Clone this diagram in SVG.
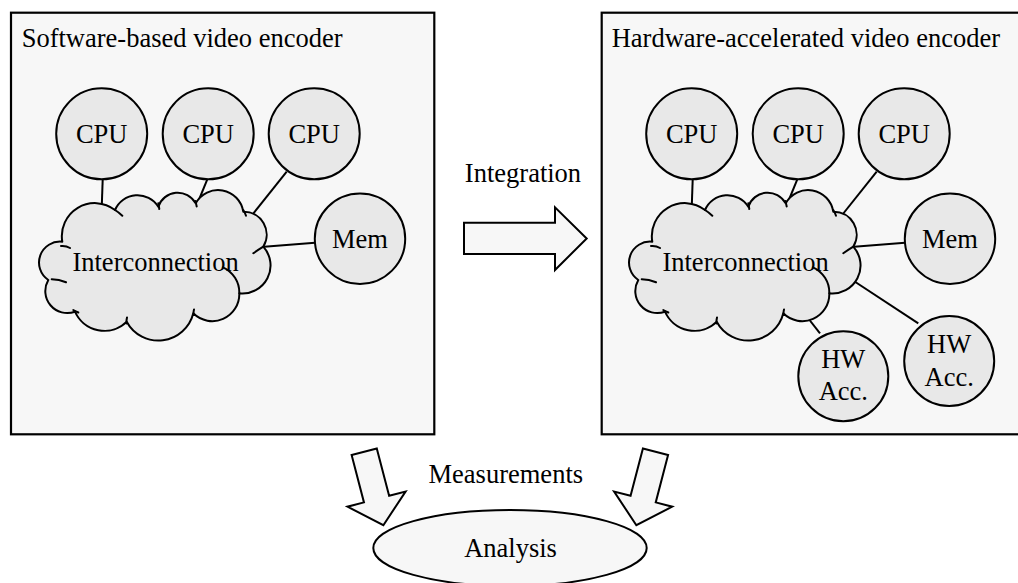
<svg xmlns="http://www.w3.org/2000/svg" xmlns:xlink="http://www.w3.org/1999/xlink" width="1018" height="583" viewBox="0 0 1018 583">
<style>
.box{fill:#f7f7f7;stroke:#000;stroke-width:2.2}
.nd{fill:#e8e8e8;stroke:#000;stroke-width:2}
.cl{fill:#e8e8e8;stroke:#000;stroke-width:2;stroke-linejoin:round}
.hk{fill:none;stroke:#000;stroke-width:2;stroke-linecap:round}
.ar{fill:#f7f7f7;stroke:#000;stroke-width:2;stroke-linejoin:miter}
.ln{stroke:#000;stroke-width:2;fill:none}
text{font-family:"Liberation Serif","Times New Roman",serif;font-size:26.5px;fill:#000}
.c{text-anchor:middle}
</style>
<defs>
<path id="cloudBody" class="cl" d="M 62.3 241.7 A 33 33 0 0 1 115 210 A 24.5 24.5 0 0 1 158.3 206.7 A 20.5 20.5 0 0 1 195.7 203.3 A 25.5 25.5 0 0 1 243.3 211.7 A 23 23 0 0 1 263.3 246.7 A 28 28 0 0 1 239.3 293.3 A 27 27 0 0 1 193.3 313.3 A 36 36 0 0 1 126.7 321.7 A 32 32 0 0 1 75 311.7 A 22 22 0 0 1 48.3 280 A 21 21 0 0 1 62.3 241.7 Z"/>
<path id="cloudHooks" class="hk" d="M 61 246 Q 66 245.5 70 248 M 51.7 279.3 Q 59 279.5 66 282.3 M 73.3 310 Q 76 311.5 78.3 312.5 M 126.5 323.5 Q 126.3 320.5 127 317.5 M 193.5 315 Q 193.3 312 194 309.5 M 239.3 293.3 A 27.7 27.7 0 0 0 222.9 267.3 M 263.3 246.7 Q 258 250 253.3 253.3 M 243.3 210 Q 245 212.5 246 215.7 M 195.7 201 Q 196 203.5 196.7 206.5 M 158.3 203.3 Q 158.8 206 159.3 209 M 115 210 Q 119 212.5 122.3 215.7"/>
<polygon id="downArrow" class="ar" points="-13,0 13,0 13,49 30,49 0,76 -30,49 -13,49"/>
</defs>

<g id="sw-box">
<rect class="box" x="11" y="12.7" width="423.3" height="421.6"/>
<text x="21.7" y="47.3">Software-based video encoder</text>
</g>
<g id="hw-box">
<rect class="box" x="601.7" y="12.7" width="423.3" height="421.6"/>
<text x="611.7" y="47.3">Hardware-accelerated video encoder</text>
</g>

<g id="connectors">
<line class="ln" x1="102.7" y1="179.3" x2="101.7" y2="208"/>
<line class="ln" x1="207.3" y1="179.3" x2="196.8" y2="205"/>
<line class="ln" x1="286.7" y1="171.7" x2="250.5" y2="217"/>
<line class="ln" x1="315" y1="242.7" x2="261" y2="247"/>
<line class="ln" x1="692.7" y1="179.3" x2="691.7" y2="208"/>
<line class="ln" x1="797.3" y1="179.3" x2="786.8" y2="205"/>
<line class="ln" x1="876.7" y1="171.7" x2="840.5" y2="217"/>
<line class="ln" x1="905" y1="242.7" x2="851" y2="247"/>
<line class="ln" x1="820" y1="333.3" x2="806" y2="315.5"/>
<line class="ln" x1="918.3" y1="323.3" x2="850" y2="278.5"/>
</g>

<g id="sw-interconnect">
<use xlink:href="#cloudBody"/>
<text class="c" x="155.6" y="270.7">Interconnection</text>
<use xlink:href="#cloudHooks"/>
</g>
<g id="sw-cpu1"><circle class="nd" cx="101.7" cy="133.8" r="45.5"/><text class="c" x="101.7" y="142.8">CPU</text></g>
<g id="sw-cpu2"><circle class="nd" cx="208.2" cy="133.8" r="45.5"/><text class="c" x="208.2" y="142.8">CPU</text></g>
<g id="sw-cpu3"><circle class="nd" cx="314.2" cy="133.8" r="45.5"/><text class="c" x="314.2" y="142.8">CPU</text></g>
<g id="sw-mem"><circle class="nd" cx="360" cy="238.7" r="45.2"/><text class="c" x="360" y="248.3">Mem</text></g>

<g id="hw-interconnect" transform="translate(590,0)">
<use xlink:href="#cloudBody"/>
<text class="c" x="155.6" y="270.7">Interconnection</text>
<use xlink:href="#cloudHooks"/>
</g>
<g id="hw-cpu1"><circle class="nd" cx="691.7" cy="133.8" r="45.5"/><text class="c" x="691.7" y="142.8">CPU</text></g>
<g id="hw-cpu2"><circle class="nd" cx="798.2" cy="133.8" r="45.5"/><text class="c" x="798.2" y="142.8">CPU</text></g>
<g id="hw-cpu3"><circle class="nd" cx="904.2" cy="133.8" r="45.5"/><text class="c" x="904.2" y="142.8">CPU</text></g>
<g id="hw-mem"><circle class="nd" cx="950" cy="238.7" r="45.2"/><text class="c" x="950" y="248.3">Mem</text></g>
<g id="hw-acc1"><circle class="nd" cx="843.3" cy="376.2" r="45"/><text class="c" x="843.3" y="368.3">HW</text><text class="c" x="843.3" y="400">Acc.</text></g>
<g id="hw-acc2"><circle class="nd" cx="949.2" cy="361" r="45"/><text class="c" x="949.2" y="353.3">HW</text><text class="c" x="949.2" y="385.7">Acc.</text></g>

<g id="integration">
<polygon class="ar" points="464,222.7 555,222.7 555,207.3 586.7,238.5 555,270 555,254 464,254"/>
<text class="c" x="523" y="181.7">Integration</text>
</g>

<g id="measurements">
<use xlink:href="#downArrow" transform="translate(364.2,451.7) rotate(-14.6)"/>
<use xlink:href="#downArrow" transform="translate(655.5,451.7) rotate(14.6)"/>
<text class="c" x="505.8" y="483.3">Measurements</text>
</g>

<g id="analysis">
<ellipse cx="510" cy="548" rx="136.7" ry="38" fill="#f7f7f7" stroke="#000" stroke-width="2"/>
<text class="c" x="510.5" y="557.3">Analysis</text>
</g>
</svg>
